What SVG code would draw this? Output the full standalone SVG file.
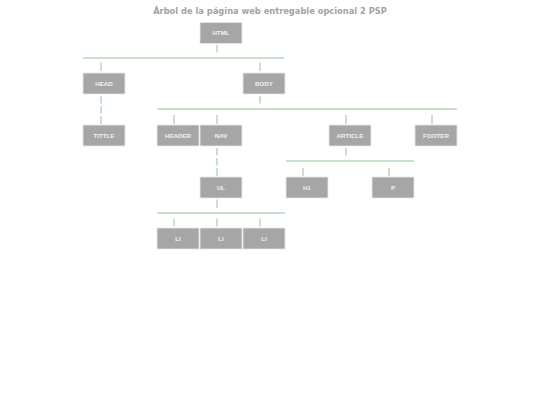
<svg xmlns="http://www.w3.org/2000/svg" width="540" height="405" viewBox="0 0 540 405">
<style>
.box{fill:#a6a6a6;stroke:#e8e8e8;stroke-width:0.8}
.lbl{font-family:"Liberation Sans",Arial,sans-serif;font-size:6.2px;font-weight:bold;fill:#f2f2f2;text-anchor:middle}
.title{font-family:"DejaVu Sans",Verdana,sans-serif;font-size:8.3px;font-weight:bold;fill:#a3a3a3;text-anchor:middle}
.c line{stroke:#94c494;stroke-width:1}
</style>
<rect width="540" height="405" fill="#fff"/>
<text class="title" x="270" y="14">Árbol de la página web entregable opcional 2 PSP</text>
<g class="c" id="connectors">
<line x1="217" y1="45" x2="217" y2="52.5"/>
<line x1="83" y1="58" x2="284.5" y2="58"/>
<line x1="101" y1="62.5" x2="101" y2="71"/>
<line x1="260" y1="62.5" x2="260" y2="71"/>
<line x1="260" y1="96" x2="260" y2="103.5"/>
<line x1="157" y1="109" x2="457" y2="109"/>
<line x1="101" y1="96" x2="101" y2="103.5"/>
<line x1="101" y1="106" x2="101" y2="113.5"/>
<line x1="101" y1="116" x2="101" y2="124"/>
<line x1="174" y1="115" x2="174" y2="124"/>
<line x1="217" y1="115" x2="217" y2="124"/>
<line x1="346" y1="115" x2="346" y2="124"/>
<line x1="432" y1="115" x2="432" y2="124"/>
<line x1="346" y1="148" x2="346" y2="155.5"/>
<line x1="286" y1="161" x2="414" y2="161"/>
<line x1="303" y1="168" x2="303" y2="176"/>
<line x1="389" y1="168" x2="389" y2="176"/>
<line x1="217" y1="148" x2="217" y2="155.5"/>
<line x1="217" y1="158" x2="217" y2="165.5"/>
<line x1="217" y1="168" x2="217" y2="176"/>
<line x1="217" y1="199.5" x2="217" y2="208"/>
<line x1="157" y1="213" x2="285" y2="213"/>
<line x1="174" y1="218.5" x2="174" y2="226.5"/>
<line x1="217" y1="218.5" x2="217" y2="226.5"/>
<line x1="260" y1="218.5" x2="260" y2="226.5"/>
</g>
<g id="html"><rect class="box" x="200" y="22.5" width="42" height="21"/><text class="lbl" x="221" y="35.2">HTML</text></g>
<g id="head"><rect class="box" x="83" y="73" width="42" height="21"/><text class="lbl" x="104" y="85.7">HEAD</text></g>
<g id="body"><rect class="box" x="243" y="73" width="42" height="21"/><text class="lbl" x="264" y="85.7">BODY</text></g>
<g id="tittle"><rect class="box" x="83" y="125" width="42" height="21"/><text class="lbl" x="104" y="137.7">TITTLE</text></g>
<g id="header"><rect class="box" x="157" y="125" width="42" height="21"/><text class="lbl" x="178" y="137.7">HEADER</text></g>
<g id="nav"><rect class="box" x="200" y="125" width="42" height="21"/><text class="lbl" x="221" y="137.7">NAV</text></g>
<g id="article"><rect class="box" x="329" y="125" width="42" height="21"/><text class="lbl" x="350" y="137.7">ARTICLE</text></g>
<g id="footer"><rect class="box" x="415" y="125" width="42" height="21"/><text class="lbl" x="436" y="137.7">FOOTER</text></g>
<g id="ul"><rect class="box" x="200" y="177" width="42" height="21"/><text class="lbl" x="221" y="189.7">UL</text></g>
<g id="h1"><rect class="box" x="286" y="177" width="42" height="21"/><text class="lbl" x="307" y="189.7">H1</text></g>
<g id="p"><rect class="box" x="372" y="177" width="42" height="21"/><text class="lbl" x="393" y="189.7">P</text></g>
<g id="li1"><rect class="box" x="157" y="228" width="42" height="21"/><text class="lbl" x="178" y="240.7">LI</text></g>
<g id="li2"><rect class="box" x="200" y="228" width="42" height="21"/><text class="lbl" x="221" y="240.7">LI</text></g>
<g id="li3"><rect class="box" x="243" y="228" width="42" height="21"/><text class="lbl" x="264" y="240.7">LI</text></g>
</svg>
